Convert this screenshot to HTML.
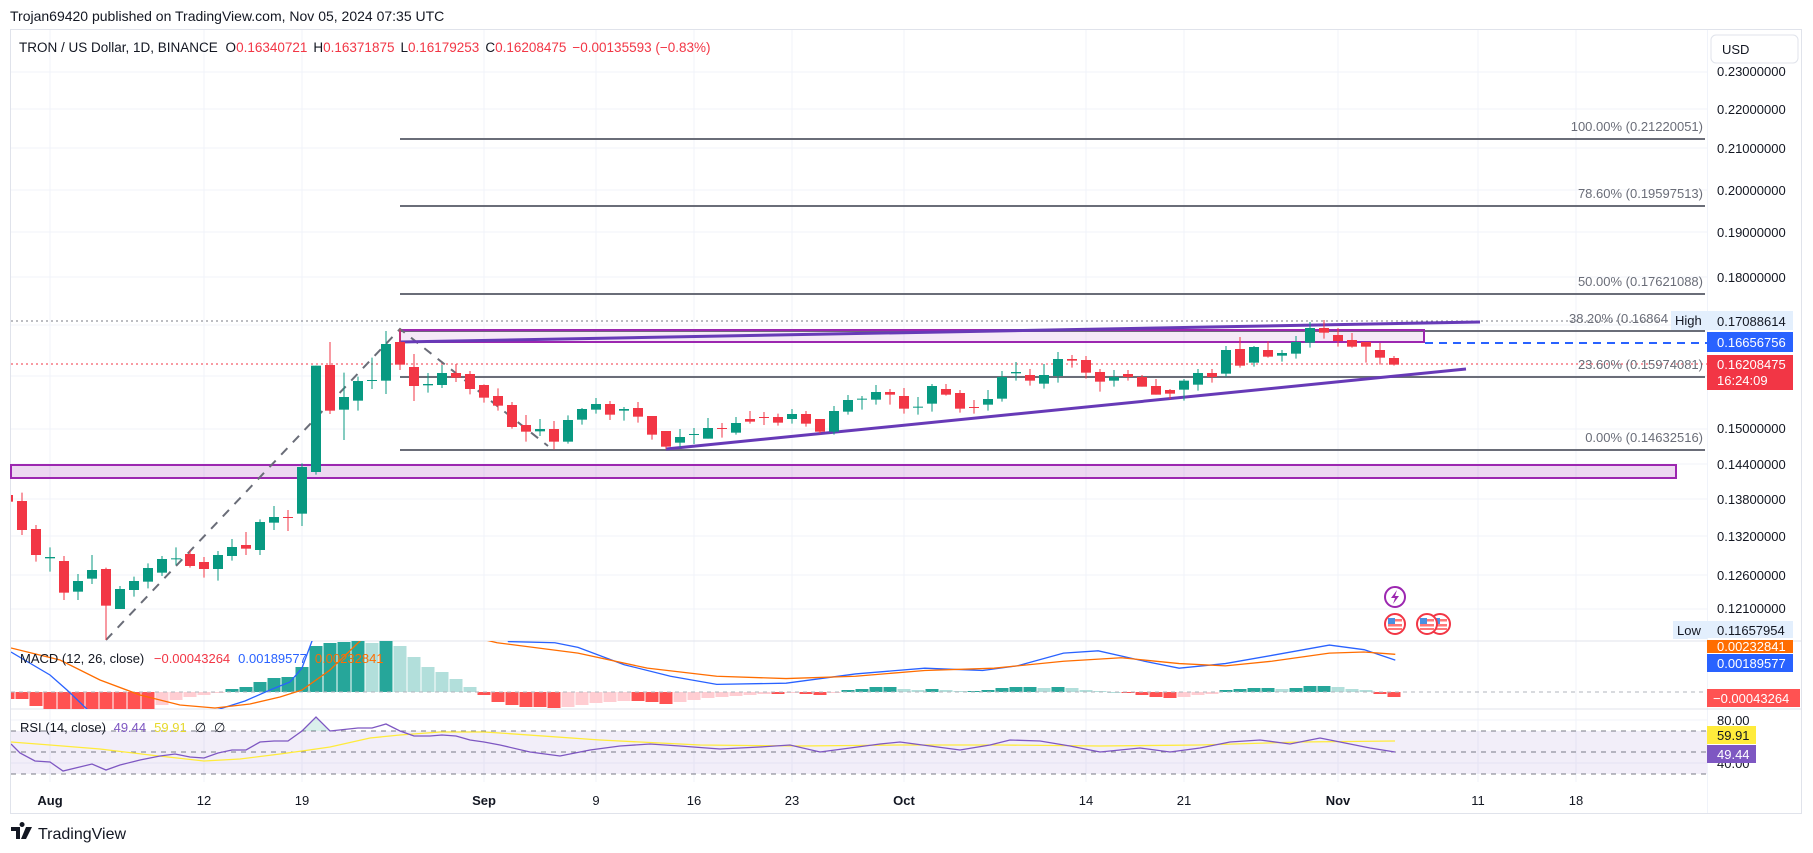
<!DOCTYPE html>
<html><head><meta charset="utf-8">
<style>
html,body{margin:0;padding:0;background:#fff;}
svg{display:block;font-family:"Liberation Sans",sans-serif;}
</style></head>
<body>
<svg id="s" width="1813" height="853" viewBox="0 0 1813 853" xmlns="http://www.w3.org/2000/svg">
<defs>
<clipPath id="cm"><rect x="11" y="30" width="1696" height="611"/></clipPath>
<clipPath id="cd"><rect x="11" y="641" width="1696" height="68"/></clipPath>
<clipPath id="cr"><rect x="11" y="709" width="1696" height="73"/></clipPath>
</defs>
<rect width="1813" height="853" fill="#fff"/>
<text x="10" y="21" font-size="14" fill="#131722">Trojan69420 published on TradingView.com, Nov 05, 2024 07:35 UTC</text>
<rect x="10.5" y="29.5" width="1791" height="784" fill="none" stroke="#e0e3eb"/>
<g id="grid" stroke="#f0f3fa" stroke-width="1"></g>
<line x1="1707.5" y1="30" x2="1707.5" y2="813" stroke="#f0f3fa"/>
<line x1="11" y1="641" x2="1801" y2="641" stroke="#e0e3eb"/>
<line x1="11" y1="709" x2="1801" y2="709" stroke="#e0e3eb"/>
<!-- support box -->
<rect x="11" y="465" width="1665" height="13" fill="rgba(156,39,176,0.18)" stroke="#9c27b0" stroke-width="2"/>
<g id="main" clip-path="url(#cm)"></g>
<g id="macd" clip-path="url(#cd)"></g>
<g id="rsi" clip-path="url(#cr)"></g>
<!-- fib labels -->
<g font-size="13" fill="#6a6d78" text-anchor="end">
<text x="1703" y="131">100.00% (0.21220051)</text>
<text x="1703" y="198">78.60% (0.19597513)</text>
<text x="1703" y="286">50.00% (0.17621088)</text>
<text x="1668" y="323">38.20% (0.16864</text>
<text x="1703" y="369">23.60% (0.15974081)</text>
<text x="1703" y="442">0.00% (0.14632516)</text>
</g>
<rect x="1671" y="311" width="36" height="19" fill="#e3effd"/>
<text x="1675" y="325" font-size="13" fill="#131722">High</text>
<rect x="1673" y="621" width="34" height="18" fill="#e3effd"/>
<text x="1677" y="635" font-size="13" fill="#131722">Low</text>
<!-- icons -->
<g>
<circle cx="1395" cy="597" r="10" fill="#fff" stroke="#9c27b0" stroke-width="2"/>
<path d="M1397 590 L1391 598 L1395 598 L1393 604 L1399 596 L1395 596 Z" fill="#9c27b0"/>
<g id="flags"></g>
</g>
<!-- legend -->
<text x="19" y="52" font-size="13.5" fill="#131722">TRON / US Dollar, 1D, BINANCE <tspan dx="4">O</tspan><tspan fill="#f23645">0.16340721</tspan><tspan dx="6">H</tspan><tspan fill="#f23645">0.16371875</tspan><tspan dx="6">L</tspan><tspan fill="#f23645">0.16179253</tspan><tspan dx="6">C</tspan><tspan fill="#f23645">0.16208475</tspan><tspan dx="6" fill="#f23645">−0.00135593 (−0.83%)</tspan></text>
<text x="20" y="663" font-size="13" fill="#131722">MACD (12, 26, close) <tspan dx="6" fill="#f23645">−0.00043264</tspan><tspan dx="8" fill="#2962ff">0.00189577</tspan><tspan dx="8" fill="#ff6d00">0.00232841</tspan></text>
<text x="20" y="732" font-size="13" fill="#131722">RSI (14, close) <tspan dx="4" fill="#7e57c2">49.44</tspan><tspan dx="8" fill="#e6d92e">59.91</tspan><tspan dx="8">∅</tspan><tspan dx="8">∅</tspan></text>
<!-- price axis -->
<rect x="1711" y="35" width="87" height="28" rx="5" fill="#fff" stroke="#e0e3eb"/>
<text x="1722" y="54" font-size="13" fill="#131722">USD</text>
<g font-size="13" fill="#131722">
<text x="1717" y="76">0.23000000</text>
<text x="1717" y="114">0.22000000</text>
<text x="1717" y="153">0.21000000</text>
<text x="1717" y="195">0.20000000</text>
<text x="1717" y="237">0.19000000</text>
<text x="1717" y="282">0.18000000</text>
<text x="1717" y="433">0.15000000</text>
<text x="1717" y="469">0.14400000</text>
<text x="1717" y="504">0.13800000</text>
<text x="1717" y="541">0.13200000</text>
<text x="1717" y="580">0.12600000</text>
<text x="1717" y="613">0.12100000</text>
<text x="1717" y="725">80.00</text>
<text x="1717" y="768">40.00</text>
</g>
<rect x="1707" y="311" width="86" height="19" fill="#e3effd"/>
<text x="1717" y="326" font-size="13" fill="#131722">0.17088614</text>
<rect x="1707" y="332" width="86" height="20" fill="#2962ff"/>
<text x="1717" y="347" font-size="13" fill="#fff">0.16656756</text>
<rect x="1707" y="355" width="86" height="35" fill="#f23645"/>
<text x="1717" y="369" font-size="13" fill="#fff">0.16208475</text>
<text x="1717" y="385" font-size="13" fill="#fff">16:24:09</text>
<rect x="1707" y="621" width="86" height="17" fill="#e3effd"/>
<text x="1717" y="635" font-size="13" fill="#131722">0.11657954</text>
<rect x="1707" y="640" width="86" height="13" fill="#ff6d00"/>
<text x="1717" y="651" font-size="13" fill="#fff">0.00232841</text>
<rect x="1707" y="654" width="86" height="18" fill="#2962ff"/>
<text x="1717" y="668" font-size="13" fill="#fff">0.00189577</text>
<rect x="1707" y="689" width="93" height="18" fill="#ff5252"/>
<text x="1713" y="703" font-size="13" fill="#fff">−0.00043264</text>
<rect x="1707" y="726" width="49" height="18" fill="#ffeb3b"/>
<text x="1717" y="740" font-size="13" fill="#131722">59.91</text>
<rect x="1707" y="745" width="49" height="18" fill="#7e57c2"/>
<text x="1717" y="759" font-size="13" fill="#fff">49.44</text>
<!-- time axis -->
<g font-size="13" fill="#131722" text-anchor="middle">
<text x="50" y="805" font-weight="bold">Aug</text>
<text x="204" y="805">12</text>
<text x="302" y="805">19</text>
<text x="484" y="805" font-weight="bold">Sep</text>
<text x="596" y="805">9</text>
<text x="694" y="805">16</text>
<text x="792" y="805">23</text>
<text x="904" y="805" font-weight="bold">Oct</text>
<text x="1086" y="805">14</text>
<text x="1184" y="805">21</text>
<text x="1338" y="805" font-weight="bold">Nov</text>
<text x="1478" y="805">11</text>
<text x="1576" y="805">18</text>
</g>
<g transform="translate(11,825)">
<path d="M0 2 H9 V14 H5 V6 H0 Z M11 2 a2.5 2.5 0 1 1 0.1 0 Z M15 2 H21 L15 14 H10 Z" fill="#131722"/>
<text x="27" y="14" font-size="16" fill="#131722">TradingView</text>
</g>
</svg>
<script>
var NS="http://www.w3.org/2000/svg";
function el(p,t,a){var e=document.createElementNS(NS,t);for(var k in a)e.setAttribute(k,a[k]);p.appendChild(e);return e;}
var G=document.getElementById("grid"),M=document.getElementById("main"),D=document.getElementById("macd"),R=document.getElementById("rsi");
[50,204,302,484,596,694,792,904,1086,1184,1338,1478,1576].forEach(function(x){el(G,"line",{x1:x,y1:30,x2:x,y2:782});});
[72,109,148,190,232,277,325,376,429,464,499,536,575,609,720,763].forEach(function(y){el(G,"line",{x1:11,y1:y,x2:1707,y2:y});});
function X(i){return 50+14*i;}
// fib + lines
[139,206,294,331,377,450].forEach(function(y){el(M,"line",{x1:400,y1:y,x2:1705,y2:y,stroke:"#6a6d78","stroke-width":2});});
el(M,"line",{x1:11,y1:321,x2:1707,y2:321,stroke:"#787b86","stroke-dasharray":"2 3"});
el(M,"line",{x1:11,y1:364,x2:1707,y2:364,stroke:"#f23645","stroke-dasharray":"2 3"});
el(M,"line",{x1:1425,y1:343,x2:1707,y2:343,stroke:"#2962ff","stroke-width":2,"stroke-dasharray":"8 6"});
el(M,"rect",{x:400,y:330,width:1024,height:12,fill:"rgba(156,39,176,0.1)",stroke:"#9c27b0","stroke-width":2});
el(M,"polyline",{points:"106,640 400,329 548,446",fill:"none",stroke:"#6a6d78","stroke-width":2,"stroke-dasharray":"9 8"});
el(M,"line",{x1:400,y1:342,x2:1480,y2:322,stroke:"#673ab7","stroke-width":3});
el(M,"line",{x1:666,y1:449,x2:1466,y2:369,stroke:"#673ab7","stroke-width":3});
var g1="r,555,575,548,580;r,573,660,548,675;r,657,735,645,755;g,741,745,712,785;r,753,848,738,870;g,813,845,792,870;g,780,806,735,822;r,777,887,773,990;g,837,897,828,897;g,813,840,800,860;g,774,815,760,835;g,747,788,738,798;g,745,748,712,765;r,732,768,720,773;r,756,777,741,803;g,735,777,723,812;g,711,738,687,752;r,705,716,666,735;g,636,720,628,735;g,621,638,588,660;r,621,624,600,663;g,471,611,460,648;g,167,486,167,494;r,165,302,96,312;g,261,299,188,390;g,213,272,200,302;g,210,213,143,237;g,102,212,63,252;r,96,164,58,180;r,171,228,132,273;g,222,226,189,248;g,189,225,165,234;r,189,203,162,216;r,192,237,183,253;r,225,263,223,278";
var g2="r,258,287,235,302;r,285,351,276,356;r,345,365,315,395;g,357,364,327,378;r,357,395,333,418;g,330,395,316,401;g,297,329,294,344;g,282,299,264,311;r,282,314,273,330;g,297,302,291,332;r,294,320,276,338;r,318,374,318,389;r,363,410,363,417;g,381,398,357,412;g,372,375,354,402;g,354,386,324,386;r,354,357,339,383;g,339,368,321,374;r,327,335,303,341;r,321,324,306,345;r,321,338,311,347;g,312,327,297,341;r,312,341,303,350;r,327,365,327,370;g,303,365,288,374;g,270,305,255,314;g,266,269,258,299;g,246,269,225,284;r,246,254,237,284;r,258,296,234,311;g,290,293,261,314;g,228,281,222,305;r,237,254,222,257";
var g3="r,279,326,270,338;r,321,324,300,341;g,297,314,270,332;g,231,296,213,305;g,216,220,186,242;r,225,242,207,257;g,225,251,192,266;g,177,228,156,248;r,177,182,165,203;r,180,218,168,236;r,216,245,207,275;g,231,242,210,260;r,222,231,210,242;r,231,260,225,260;r,258,284,237,284;r,270,281,267,297;g,242,269,237,302;g,219,254,207,272;r,219,231,207,248;g,150,221,138,230;r,147,197,111,203;g,141,188,138,200;r,150,170,124,173;g,159,167,150,185;g,126,161,108,176;g,84,128,66,143;r,84,98,60,116;r,105,123,84,140;r,120,140,99,143;r,126,140,126,188;r,150,173,129,194;r,174,194,168,197";
function draw(s,start,off){s.split(";").forEach(function(c,k){var a=c.split(",");var col=a[0]=="g"?"#089981":"#f23645";var x=X(start+k);
var f=function(v){return off+(+v)/3;};var bt=f(a[1]),bb=f(a[2]),wt=f(a[3]),wb=f(a[4]);
el(M,"line",{x1:x,y1:wt,x2:x,y2:wb,stroke:col,"stroke-width":1});
el(M,"rect",{x:x-5,y:bt,width:10,height:Math.max(1,bb-bt),fill:col});});}
draw(g1,-3,310);draw(g2,32,310);draw(g3,65,300);
// MACD hist
var h=[-7,-7,-14,-17,-17,-17,-17,-17,-17,-17,-17,-13,-8,-5,-3,-1,3,5,10,14,15,25,46,49,50,52,49,52,46,35,25,20,13,5,-3,-10,-13,-15,-15,-16,-15,-13,-11,-10,-9,-9,-10,-12,-10,-8,-6,-5,-4,-3,-2,-2,-1,-2,-3,-1,2,3,5,5,3,2,3,2,1,1,2,4,5,5,4,5,4,2,1,0,-1,-3,-5,-6,-5,-3,-2,2,3,4,4,3,4,6,6,5,3,2,-2,-5];
var z=692;
h.forEach(function(v,k){var p=k?h[k-1]:v;var col;if(v>=0)col=v>=p?"#26a69a":"#b2dfdb";else col=v<=p?"#ff5252":"#ffcdd2";
var x=X(k-3);el(D,"rect",{x:x-6.5,y:v>=0?z-v:z,width:13,height:Math.max(1,Math.abs(v)),fill:col});});
el(D,"line",{x1:11,y1:z,x2:1707,y2:z,stroke:"#b2b5be","stroke-dasharray":"4 4"});
function pl(p,pts,col,sc){var s=pts.map(function(q){return sc?[q[0]*1.156,q[1]*1.156]:q;});el(p,"polyline",{points:s.map(function(q){return q.join(",")}).join(" "),fill:"none",stroke:col,"stroke-width":1.3});}
pl(D,[[11,652],[50,675],[67,690],[90,712],[210,712],[245,701],[270,690],[290,682],[302,668],[312,641],[320,620]],"#2962ff");
pl(D,[[372,470],[440,555],[480,556],[500,560],[540,575],[580,585],[620,592],[680,591],[740,583],[800,578],[850,580],[880,576],[920,565],[950,563],[990,572],[1020,578],[1060,574],[1100,567],[1150,558],[1180,562],[1207,571]],"#2962ff",1);
pl(D,[[11,648],[60,660],[100,680],[140,695],[180,705],[215,708],[250,704],[280,697],[302,690],[330,670],[360,641],[380,620]],"#ff6d00");
pl(D,[[320,530],[430,556],[500,565],[560,578],[620,585],[680,587],[740,585],[800,580],[860,578],[920,572],[970,569],[1020,574],[1060,576],[1100,572],[1150,565],[1180,564],[1207,566]],"#ff6d00",1);
// RSI
el(R,"rect",{x:11,y:731,width:1696,height:43,fill:"rgba(126,87,194,0.1)"});
[731,752,774].forEach(function(y){el(R,"line",{x1:11,y1:y,x2:1707,y2:y,stroke:"#787b86","stroke-dasharray":"5 5"});});
el(R,"polygon",{points:"302,731 316,717 330,731",fill:"rgba(8,153,129,0.15)"});
pl(R,[[11,742],[50,745],[100,749],[150,755],[204,761],[240,759],[280,754],[302,751],[330,747],[370,738],[400,735],[440,732],[484,732],[500,733],[600,740],[700,745],[800,746],[900,745],[1000,745],[1100,746],[1200,745],[1300,742],[1395,741]],"#ffeb3b");
pl(R,[[11,744],[20,753],[35,761],[50,762],[63,771],[92,764],[106,770],[120,765],[140,760],[160,756],[175,754],[190,757],[204,758],[218,753],[232,750],[246,750],[260,742],[274,741],[288,741],[302,731],[316,717],[330,731],[358,728],[372,728],[386,724],[400,731],[414,736],[430,736],[442,735],[456,736],[470,740],[484,742],[500,745],[530,752],[560,756],[590,750],[620,746],[650,744],[680,746],[720,749],[760,747],[790,745],[820,752],[850,748],[880,744],[900,742],[930,746],[960,750],[990,745],[1010,740],[1040,741],[1070,746],[1100,752],[1140,748],[1170,752],[1200,748],[1230,742],[1260,740],[1290,744],[1320,738],[1340,742],[1370,748],[1395,752]],"#7e57c2");
// flags
var F=document.getElementById("flags");
[1395,1440,1427].forEach(function(x){var y=624;
el(F,"circle",{cx:x,cy:y,r:10,fill:"#fff",stroke:"#f23645","stroke-width":2});
el(F,"rect",{x:x-7,y:y-5,width:14,height:2.5,fill:"#f77"});
el(F,"rect",{x:x-7,y:y,width:14,height:2.5,fill:"#f77"});
el(F,"rect",{x:x-7,y:y+4,width:14,height:2,fill:"#f77"});
el(F,"rect",{x:x-7,y:y-6,width:7,height:6,fill:"#4a90e2"});});
</script>
</body></html>
